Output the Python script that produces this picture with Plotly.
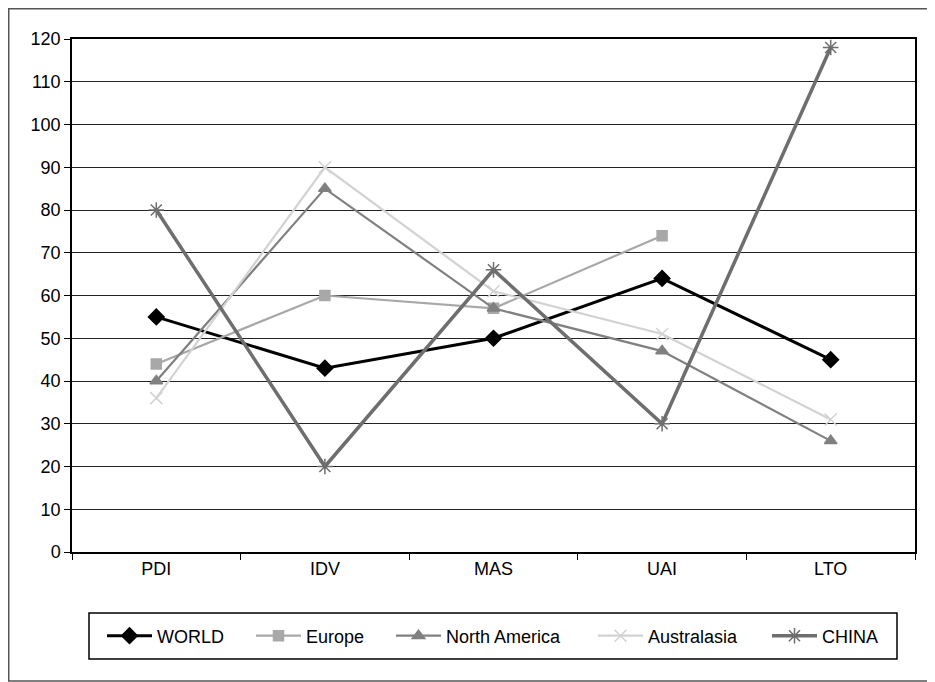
import plotly.graph_objects as go

categories = ["PDI", "IDV", "MAS", "UAI", "LTO"]
world = [55, 43, 50, 64, 45]
europe = [44, 60, 57, 74, None]
north_america = [40, 85, 57, 47, 26]
australasia = [36, 90, 61, 51, 31]
china = [80, 20, 66, 30, 118]
y_ticks = list(range(0, 121, 10))

# page body has an 8px margin; figure is sized to fill the rest of the window
W, H = 927, 674
L, R, T, B = 64, 907, 31, 544

fig = go.Figure()
series = [
    ("WORLD", world, "#000000", 3, "diamond", 12),
    ("Europe", europe, "#a8a8a8", 2.2, "square", 10),
    ("North America", north_america, "#808080", 2.2, "triangle-up", 11),
    ("Australasia", australasia, "#d2d2d2", 2.2, "x-thin-open", 12),
    ("CHINA", china, "#6e6e6e", 3.5, "asterisk-open", 13),
]
legend_x = [99, 248, 388, 590, 764]
legend_names = ["legend", "legend2", "legend3", "legend4", "legend5"]
for (name, vals, col, lw, sym, ms), lg in zip(series, legend_names):
    fig.add_trace(go.Scatter(
        x=categories, y=vals, name=name, mode="lines+markers",
        line=dict(color=col, width=lw),
        marker=dict(symbol=sym, size=ms, color=col, line=dict(color=col, width=1.5)),
        connectgaps=False, legend=lg,
    ))

def px_x(p):
    return (p - L) / (R - L)

def px_y(p):
    return (B - p) / (B - T)

# outer frame
fig.add_shape(type="rect", xref="paper", yref="paper",
              x0=px_x(0.75), x1=px_x(926), y0=px_y(673), y1=px_y(0.75),
              line=dict(color="#555555", width=1.5), layer="below")
# legend box
fig.add_shape(type="rect", xref="paper", yref="paper",
              x0=px_x(81), x1=px_x(889), y0=px_y(651), y1=px_y(605),
              line=dict(color="black", width=1.5), fillcolor="white", layer="below")

layout_legends = {}
for lg, lx in zip(legend_names, legend_x):
    layout_legends[lg] = dict(
        xref="container", yref="container",
        x=(lx - 5) / W, xanchor="left", y=1 - 628 / H, yanchor="middle",
        borderwidth=0, bgcolor="rgba(0,0,0,0)", font=dict(size=18),
        itemwidth=45, orientation="h",
    )

fig.update_layout(
    width=W, height=H,
    margin=dict(l=L, r=W - R, t=T, b=H - B),
    paper_bgcolor="white", plot_bgcolor="white",
    font=dict(family="Liberation Sans, Arial, sans-serif", size=18, color="black"),
    showlegend=True,
    **layout_legends,
)
fig.update_xaxes(
    type="category", range=[-0.5, 4.5], showgrid=False,
    showline=True, linecolor="black", linewidth=1.5, mirror=True,
    ticks="outside", tickson="boundaries", ticklen=6, tickcolor="black",
    tickfont=dict(size=18),
)
fig.update_yaxes(
    range=[0, 120], tickvals=y_ticks, showgrid=True, gridcolor="#222222", gridwidth=1,
    showline=True, linecolor="black", linewidth=1.5, mirror=True,
    ticks="outside", ticklen=6, tickcolor="black", zeroline=False,
    tickfont=dict(size=18),
)
fig.write_html("out.html")
